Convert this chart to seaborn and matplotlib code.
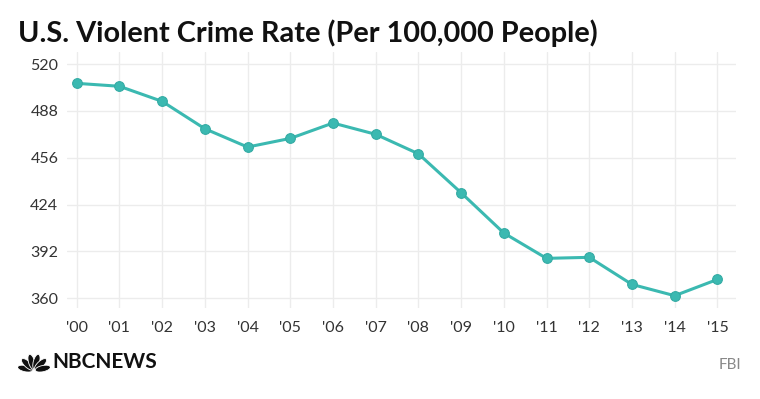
import matplotlib
matplotlib.use("Agg")
import matplotlib.pyplot as plt
import seaborn as sns
import pandas as pd
import numpy as np
from matplotlib.patches import Ellipse

years = ["'00", "'01", "'02", "'03", "'04", "'05", "'06", "'07",
         "'08", "'09", "'10", "'11", "'12", "'13", "'14", "'15"]
rates = [506.8, 504.8, 494.5, 475.8, 463.3, 469.2, 479.7, 472.0,
         458.7, 432.1, 404.6, 387.3, 388.0, 369.5, 361.8, 372.9]
y_ticks = [360, 392, 424, 456, 488, 520]

title = "U.S. Violent Crime Rate (Per 100,000 People)"
source = "FBI"
brand = "NBCNEWS"

sns.set_theme(style="white")
plt.rcParams['font.family'] = ['Lato', 'DejaVu Sans']

df = pd.DataFrame({"idx": range(len(years)), "year": years, "rate": rates})

fig = plt.figure(figsize=(7.6, 3.99), dpi=100)
ax = fig.add_axes([66.7/760, 1-308/399, (736-66.7)/760, (308-52)/399])

teal = "#3bb9b1"
sns.lineplot(data=df, x="idx", y="rate", ax=ax, color=teal, linewidth=2.2,
             marker="o", markersize=7, markerfacecolor=teal,
             markeredgecolor="#34aba4", markeredgewidth=0.8, zorder=3)

ax.set_xlim(-0.234, 15.436)
ax.set_ylim(353.4, 528.2)
ax.set_xticks(range(len(years)))
ax.set_xticklabels(years)
ax.set_yticks(y_ticks)
ax.set_yticklabels([str(v) for v in y_ticks])
ax.grid(True, color="#ececec", linewidth=1.0)
ax.set_axisbelow(True)
for s in ax.spines.values():
    s.set_visible(False)
ax.tick_params(axis="both", length=0, labelsize=11.5, colors="#333333")
ax.tick_params(axis="x", pad=9)
ax.tick_params(axis="y", pad=6)
ax.set_xlabel("")
ax.set_ylabel("")

fig.text(18/760, 1-42/399, title, fontsize=20.8, fontweight="bold",
         color="#111111", ha="left", va="baseline")
fig.text(741/760, 1-365/399, source, fontsize=11, color="#888888",
         ha="right", va="center")

# brand mark
fig.text(52/760, 1-362/399, brand, fontsize=15, fontweight="bold",
         color="#111111", ha="left", va="center")
lax = fig.add_axes([18/760, 1-372/399, 32/760, 20/399])
lax.set_xlim(-1.6, 1.6)
lax.set_ylim(0, 2.0)
lax.axis("off")
for ang in np.linspace(-78, 78, 6):
    r = np.deg2rad(ang)
    cx, cy = 0.9*np.sin(r), 0.15 + 0.9*np.cos(r)
    lax.add_patch(Ellipse((cx, cy), 0.62, 1.55, angle=-ang,
                          facecolor="#111111", edgecolor="white", linewidth=0.6))

fig.savefig("out.png", dpi=100)
